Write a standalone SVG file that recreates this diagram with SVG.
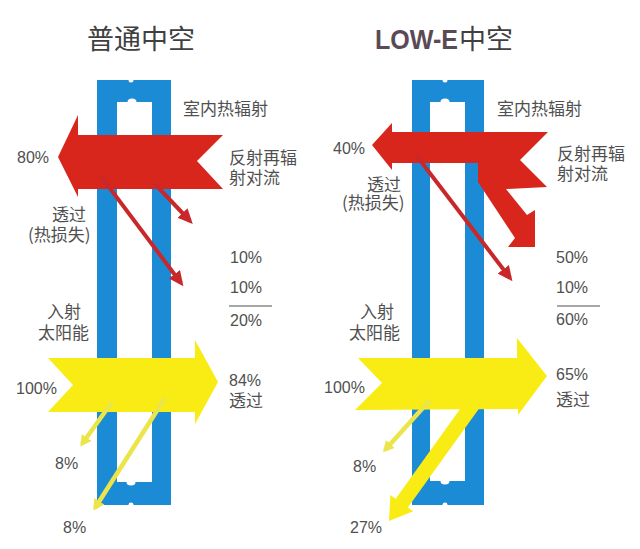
<svg xmlns="http://www.w3.org/2000/svg" width="640" height="549" viewBox="0 0 640 549">
<defs>
<style>
.t{font-family:"Noto Sans CJK SC","Noto Sans",sans-serif;font-size:17px;fill:#505050}
.n{font-family:"Liberation Sans","Noto Sans",sans-serif;font-size:16px;fill:#505050}
.title{font-family:"Noto Sans CJK SC","Noto Sans",sans-serif;font-size:27px;fill:#404040}
.frame{fill:#1c8bd6;fill-rule:evenodd}
.notch{fill:#ffffff}
.red{fill:#d8261c}
.yel{fill:#f8ec14}
.rl{stroke:#c9282a;stroke-width:4;fill:none}
.yl{stroke:#ece54a;stroke-width:4.5;fill:none}
.rule{stroke:#8a8a8a;stroke-width:1.5}
</style>
<marker id="rh" markerUnits="userSpaceOnUse" markerWidth="16" markerHeight="14" refX="11" refY="7" orient="auto">
<path d="M0,0 L15,7 L0,14 Z" fill="#c9282a"/>
</marker>
<marker id="yh" markerUnits="userSpaceOnUse" markerWidth="12" markerHeight="12" refX="8" refY="6" orient="auto">
<path d="M0,0 L11,6 L0,12 Z" fill="#ece54a"/>
</marker>
</defs>
<rect width="640" height="549" fill="#ffffff"/>

<g id="title-left"><text class="title" x="87" y="49">普通中空</text></g>
<g id="title-right"><text x="375" y="49" font-family="Liberation Sans, sans-serif" font-weight="bold" font-size="28" fill="#5b4a56" textLength="83" lengthAdjust="spacingAndGlyphs">LOW-E</text><text class="title" x="459" y="49">中空</text></g>

<g id="frame-left">
<path class="frame" d="M97,80 H171 V505 H97 Z M117,102 V482 H152 V102 Z"/>
<circle class="notch" cx="131" cy="80" r="2.5"/>
<ellipse class="notch" cx="132" cy="102" rx="4.5" ry="3.5"/>
<ellipse class="notch" cx="131" cy="482" rx="4.5" ry="3.5"/>
<circle class="notch" cx="131" cy="505" r="2.5"/>
</g>
<g id="frame-right">
<path class="frame" d="M412,80 H484 V505 H412 Z M430,102 V481 H465 V102 Z"/>
<circle class="notch" cx="445" cy="80" r="2.5"/>
<ellipse class="notch" cx="445" cy="102" rx="4.5" ry="3.5"/>
<ellipse class="notch" cx="445" cy="481" rx="4.5" ry="3.5"/>
<circle class="notch" cx="445" cy="505" r="2.5"/>
</g>

<g id="connectors">
<polygon id="red-left" class="red" points="58,157 78,115 78,135 223,135 197,161 223,189 78,189 78,197"/>
<line class="rl" x1="154" y1="183" x2="190" y2="221" marker-end="url(#rh)"/>
<line class="rl" x1="100" y1="175" x2="181" y2="283" marker-end="url(#rh)"/>
<polygon id="yellow-left" class="yel" points="48,358 195,358 195,340 218,382 195,424 195,412 48,412 73,385"/>
<line class="yl" x1="112" y1="402" x2="82" y2="444" marker-end="url(#yh)"/>
<line class="yl" x1="165" y1="398" x2="95" y2="508" marker-end="url(#yh)"/>

<polygon id="red-right" class="red" points="372,145 392,123 392,132 548,132 520,160 547,187 506,189 527,215 535,210 535,247 508,247 515,238 478,182 478,163 392,163 392,170"/>
<line class="rl" x1="416" y1="155" x2="510" y2="278" marker-end="url(#rh)"/>
<polygon id="yellow-right" class="yel" points="358,358 517,358 517,338 547,376 518,415 518,409 355,410 382,383"/>
<polygon class="yel" points="466.9,399.6 479.1,408.4 407.9,507.5 413.2,511.3 389,521 390.4,494.9 395.7,498.7"/>
<line class="yl" x1="430" y1="400" x2="385" y2="450" marker-end="url(#yh)"/>
</g>

<g id="labels-left">
<text class="t" x="183" y="115">室内热辐射</text>
<text class="n" x="17" y="163">80%</text>
<text class="t" x="229" y="164">反射再辐</text>
<text class="t" x="229" y="184">射对流</text>
<text class="t" x="52" y="221">透过</text>
<text class="t" x="28" y="241">(热损失)</text>
<text class="n" x="230" y="263">10%</text>
<text class="n" x="230" y="293">10%</text>
<line class="rule" x1="229" y1="306" x2="272" y2="306"/>
<text class="n" x="230" y="326">20%</text>
<text class="t" x="47" y="318">入射</text>
<text class="t" x="38" y="339">太阳能</text>
<text class="n" x="16" y="394">100%</text>
<text class="n" x="229" y="386">84%</text>
<text class="t" x="229" y="407">透过</text>
<text class="n" x="55" y="469">8%</text>
<text class="n" x="63" y="533">8%</text>
</g>

<g id="labels-right">
<text class="t" x="497" y="115">室内热辐射</text>
<text class="n" x="333" y="154">40%</text>
<text class="t" x="557" y="160">反射再辐</text>
<text class="t" x="557" y="180">射对流</text>
<text class="t" x="367" y="191">透过</text>
<text class="t" x="342" y="209">(热损失)</text>
<text class="n" x="556" y="263">50%</text>
<text class="n" x="556" y="293">10%</text>
<line class="rule" x1="557" y1="306" x2="600" y2="306"/>
<text class="n" x="556" y="325">60%</text>
<text class="t" x="360" y="318">入射</text>
<text class="t" x="349" y="339">太阳能</text>
<text class="n" x="324" y="393">100%</text>
<text class="n" x="556" y="380">65%</text>
<text class="t" x="556" y="406">透过</text>
<text class="n" x="353" y="472">8%</text>
<text class="n" x="350" y="533">27%</text>
</g>
</svg>
